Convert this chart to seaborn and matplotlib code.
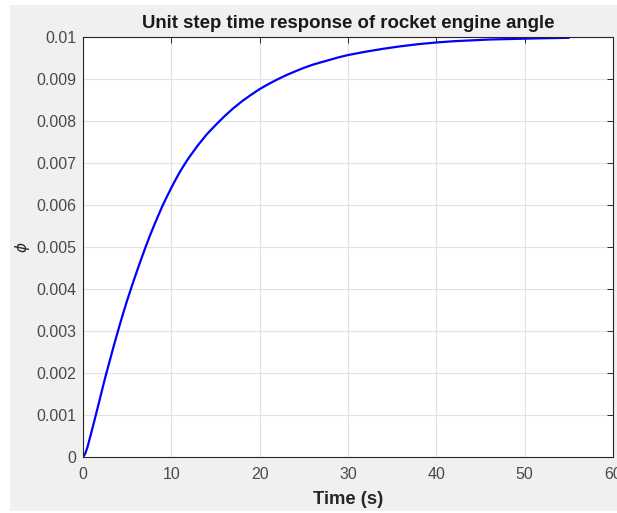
import matplotlib
matplotlib.use("Agg")
import matplotlib.pyplot as plt
from matplotlib.patches import Rectangle
import seaborn as sns
import pandas as pd

# Data
time_s = [0, 0.25, 0.5, 0.75, 1.0, 1.25, 1.5, 2.0, 2.5, 3.0, 3.5, 4.0, 4.5, 5.0,
          5.5, 6.0, 6.5, 7.0, 7.5, 8.0, 8.5, 9.0, 9.5, 10.0, 10.5, 11.0, 11.5,
          12, 13, 14, 15, 16, 17, 18, 19, 20, 21, 22, 23, 24, 25, 26, 27, 28,
          29, 30, 32, 34, 36, 38, 40, 42, 44, 46, 48, 50, 52, 55]
phi = [0.0, 0.00008, 0.00023, 0.00043, 0.00063, 0.00083, 0.00104, 0.00146,
       0.00188, 0.00227, 0.00266, 0.00303, 0.00339, 0.00373, 0.00405, 0.00436,
       0.00466, 0.00495, 0.00523, 0.00549, 0.00574, 0.00598, 0.0062, 0.00641,
       0.00661, 0.0068, 0.00697, 0.00713, 0.00742, 0.00768, 0.0079, 0.00811,
       0.0083, 0.00847, 0.00862, 0.00876, 0.00888, 0.00899, 0.00909, 0.00918,
       0.009265, 0.00934, 0.00940, 0.00946, 0.00952, 0.00957, 0.00965, 0.00972,
       0.00978, 0.00983, 0.00987, 0.0099, 0.00992, 0.00994, 0.00995, 0.00996,
       0.00997, 0.00998]
x_ticks = [0, 10, 20, 30, 40, 50, 60]
y_ticks = [0, 0.001, 0.002, 0.003, 0.004, 0.005, 0.006, 0.007, 0.008, 0.009, 0.01]
y_tick_labels = ["0", "0.001", "0.002", "0.003", "0.004", "0.005", "0.006",
                 "0.007", "0.008", "0.009", "0.01"]
title = "Unit step time response of rocket engine angle"
x_label = "Time (s)"

sns.set_style("whitegrid")
plt.rcParams["font.family"] = ["Liberation Sans", "DejaVu Sans"]
plt.rcParams["mathtext.fontset"] = "dejavusans"

fig = plt.figure(figsize=(6.17, 5.13), dpi=100, facecolor="white")
fig.patches.append(Rectangle((10 / 617, 2 / 513), 607 / 617, 506 / 513,
                             transform=fig.transFigure, facecolor="#f0f0f0",
                             edgecolor="none", zorder=-10))
ax = fig.add_axes([83 / 617, 56 / 513, 530 / 617, 420 / 513])
ax.set_facecolor("white")

df = pd.DataFrame({"t": time_s, "phi": phi})
sns.lineplot(data=df, x="t", y="phi", ax=ax, color="#0000ff", linewidth=1.6)

ax.set_xlim(0, 60)
ax.set_ylim(0, 0.01)
ax.set_xticks(x_ticks)
ax.set_xticklabels([str(v) for v in x_ticks])
ax.set_yticks(y_ticks)
ax.set_yticklabels(y_tick_labels)

ax.grid(True, color="#e2e2e2", linewidth=0.8)
for s in ax.spines.values():
    s.set_visible(True)
    s.set_color("#262626")
    s.set_linewidth(0.8)
ax.tick_params(axis="both", direction="in", length=4, width=0.7, color="#262626",
               labelsize=11.5, labelcolor="#4a4a4a", top=True, right=True)
ax.tick_params(axis="x", pad=7)
ax.tick_params(axis="y", pad=5)

ax.set_title(title, fontsize=13.4, fontweight="bold", color="#1a1a1a", pad=6.5)
ax.set_xlabel(x_label, fontsize=13.2, fontweight="bold", color="#262626", labelpad=7)
ax.set_ylabel(r"$\phi$", fontsize=11, color="#262626", labelpad=3)

fig.savefig("out.png", dpi=100, facecolor=fig.get_facecolor())
